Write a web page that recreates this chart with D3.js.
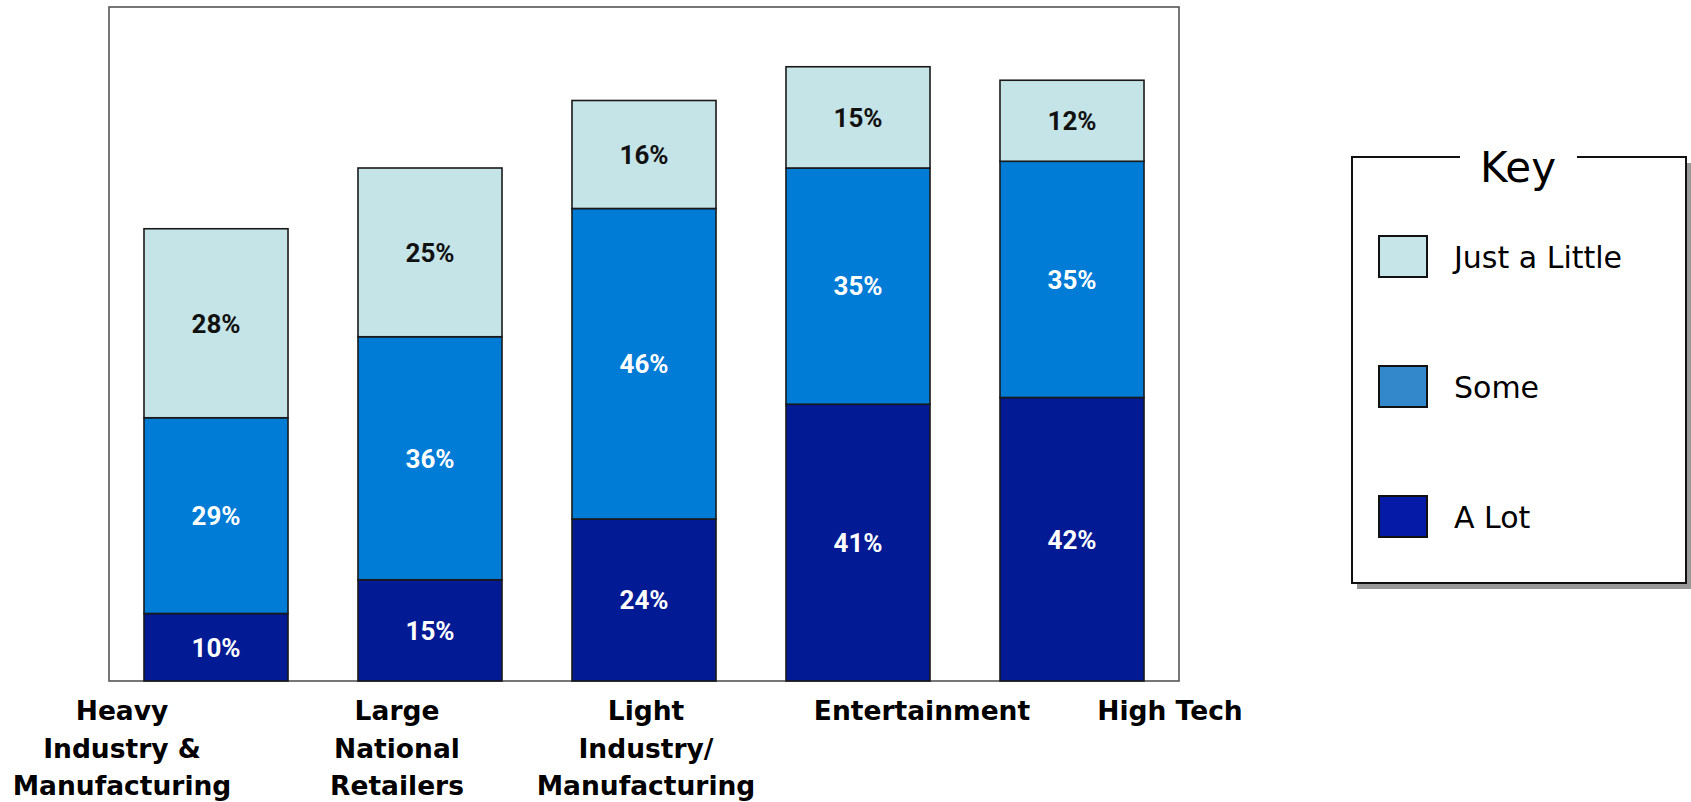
<!DOCTYPE html>
<html>
<head>
<meta charset="utf-8">
<script src="https://cdn.jsdelivr.net/npm/d3@7"></script>
<style>
  html, body { margin: 0; padding: 0; background: #ffffff; }
  svg { display: block; }
</style>
</head>
<body>
<svg id="chart" width="1691" height="802"></svg>
<script>
// ---- data ----
const categories = ["Heavy Industry & Manufacturing", "Large National Retailers", "Light Industry/ Manufacturing", "Entertainment", "High Tech"];
const categoryLines = [["Heavy", "Industry &", "Manufacturing"], ["Large", "National", "Retailers"], ["Light", "Industry/", "Manufacturing"], ["Entertainment"], ["High Tech"]];
const seriesNames = ["A Lot", "Some", "Just a Little"];
const aLot = [10, 15, 24, 41, 42];
const some = [29, 36, 46, 35, 35];
const justALittle = [28, 25, 16, 15, 12];
const yTicks = [0, 100];

// ---- layout / style ----
const W = 1691, H = 802;
const plot = { left: 109, right: 1179, top: 6, bottom: 681 };
const barColors = { "A Lot": "#021A94", "Some": "#007BD6", "Just a Little": "#C5E4E8" };
const keyColors = { "A Lot": "#061AA8", "Some": "#3388CC", "Just a Little": "#C6E5E8" };
const textColors = { "A Lot": "#ffffff", "Some": "#ffffff", "Just a Little": "#111111" };
const labelOffsets = [-94, -33, 2, 64, 98];

const rows = categories.map((c, i) => ({ category: c, "A Lot": aLot[i], "Some": some[i], "Just a Little": justALittle[i] }));

const svg = d3.select("#chart");

const x = d3.scaleBand()
  .domain(categories)
  .range([plot.left, plot.right])
  .paddingInner(0.327)
  .paddingOuter(0.1635);

const y = d3.scaleLinear()
  .domain(d3.extent(yTicks))
  .range([plot.bottom, plot.top]);

const stacked = d3.stack().keys(seriesNames)(rows);

// plot frame
svg.append("rect")
  .attr("x", plot.left).attr("y", plot.top + 1)
  .attr("width", plot.right - plot.left).attr("height", plot.bottom - plot.top - 1)
  .attr("fill", "none").attr("stroke", "#555").attr("stroke-width", 1.6);

// bars
const layer = svg.append("g").selectAll("g")
  .data(stacked).join("g")
  .attr("fill", d => barColors[d.key]);

layer.selectAll("rect")
  .data(d => d.map(v => Object.assign(v, { key: d.key })))
  .join("rect")
  .attr("x", d => x(d.data.category))
  .attr("width", x.bandwidth())
  .attr("y", d => y(d[1]))
  .attr("height", d => y(d[0]) - y(d[1]))
  .attr("stroke", "#1a1a1a")
  .attr("stroke-width", 1.6);

// value labels
const labelLayer = svg.append("g");
stacked.forEach(s => {
  labelLayer.selectAll(null)
    .data(s)
    .join("text")
    .attr("x", d => x(d.data.category) + x.bandwidth() / 2)
    .attr("y", d => (y(d[0]) + y(d[1])) / 2)
    .attr("dy", "0.36em")
    .attr("text-anchor", "middle")
    .attr("font-family", "Roboto, 'Noto Sans', sans-serif")
    .attr("font-weight", "bold")
    .attr("font-size", 26)
    .attr("fill", textColors[s.key])
    .text(d => (d[1] - d[0]) + "%");
});

// category labels
const catG = svg.append("g");
categories.forEach((c, i) => {
  const cx = x(c) + x.bandwidth() / 2 + labelOffsets[i];
  const t = catG.append("text")
    .attr("text-anchor", "middle")
    .attr("font-family", "'DejaVu Sans', sans-serif")
    .attr("font-weight", "bold")
    .attr("font-size", 26.5)
    .attr("fill", "#000");
  categoryLines[i].forEach((line, j) => {
    t.append("tspan").attr("x", cx).attr("y", 720 + j * 37.5).text(line);
  });
});

// legend
const key = { x: 1352, y: 157, w: 334, h: 426 };
const lg = svg.append("g");
lg.append("rect")
  .attr("x", key.x + 5).attr("y", key.y + 6)
  .attr("width", key.w).attr("height", key.h)
  .attr("fill", "#999");
lg.append("rect")
  .attr("x", key.x).attr("y", key.y)
  .attr("width", key.w).attr("height", key.h)
  .attr("fill", "#fff").attr("stroke", "#111").attr("stroke-width", 2);
// gap for title
lg.append("rect")
  .attr("x", 1460).attr("y", key.y - 3)
  .attr("width", 117).attr("height", 6)
  .attr("fill", "#fff");
lg.append("text")
  .attr("x", 1518).attr("y", 182)
  .attr("text-anchor", "middle")
  .attr("font-family", "'DejaVu Sans', sans-serif")
  .attr("font-size", 42)
  .attr("fill", "#000")
  .text("Key");

const keyOrder = ["Just a Little", "Some", "A Lot"];
const ky = d3.scalePoint().domain(keyOrder).range([256, 516]);
const items = lg.selectAll("g.item").data(keyOrder).join("g").attr("class", "item");
items.append("rect")
  .attr("x", 1379).attr("y", d => ky(d) - 20)
  .attr("width", 48).attr("height", 41)
  .attr("fill", d => keyColors[d])
  .attr("stroke", "#111").attr("stroke-width", 2);
items.append("text")
  .attr("x", 1454).attr("y", d => ky(d) + 12)
  .attr("font-family", "'DejaVu Sans', sans-serif")
  .attr("font-size", 30)
  .attr("fill", "#000")
  .text(d => d);
</script>
</body>
</html>
